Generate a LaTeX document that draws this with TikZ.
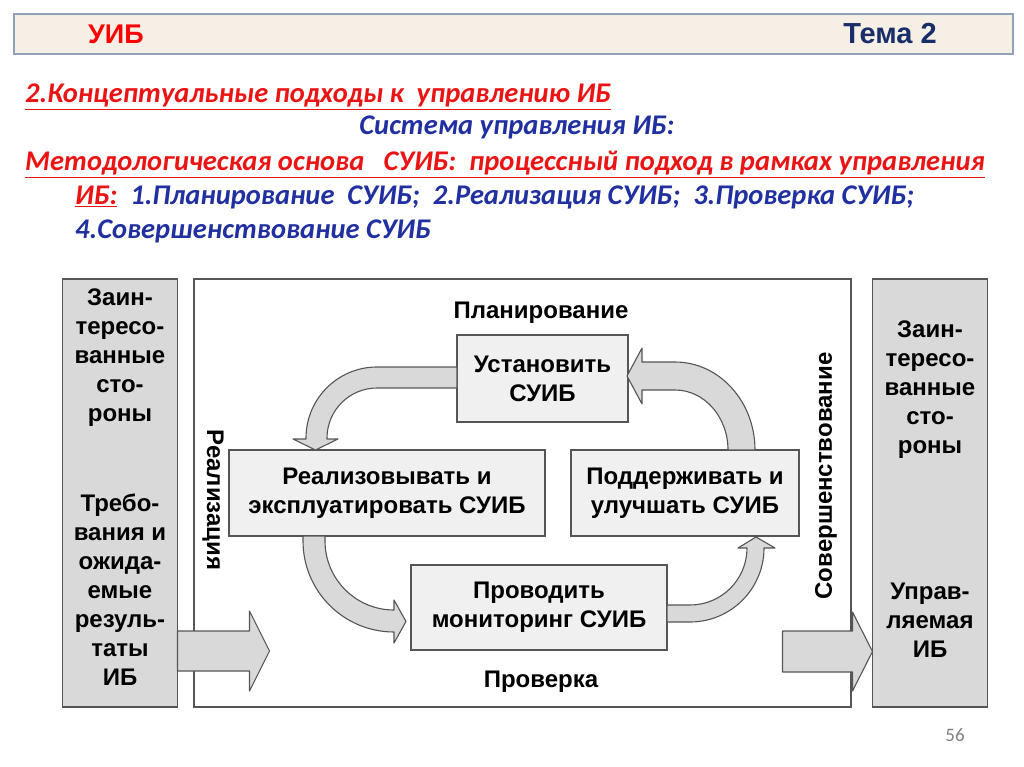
\documentclass[tikz,border=0pt]{standalone}
\usepackage{fontspec}
\setmainfont{Liberation Sans}
\newfontfamily\calib{Carlito}
\usetikzlibrary{calc}

\definecolor{redtxt}{RGB}{235,20,20}
\definecolor{bluetxt}{RGB}{32,48,160}
\definecolor{navy}{RGB}{25,45,105}
\definecolor{beige}{RGB}{246,239,229}
\definecolor{bargray}{RGB}{145,162,184}
\definecolor{linegray}{RGB}{85,85,85}
\definecolor{sidefill}{RGB}{217,217,217}
\definecolor{boxfill}{RGB}{240,240,240}

\tikzset{
	headbar/.style={draw=bargray,line width=1.5pt,fill=beige,minimum width=999,minimum height=40,inner sep=0,outer sep=0},
	headtxt/.style={font=\bfseries\fontsize{#1}{30}\selectfont},
	title/.style={font=\calib\bfseries\itshape\fontsize{28.5}{32}\selectfont,anchor=base west,inner sep=0},
	sidebox/.style={draw=linegray,line width=1.2pt,fill=sidefill,minimum width=115,minimum height=428,inner sep=0,outer sep=0},
	stepbox/.style={draw=linegray,line width=1.2pt,fill=boxfill,inner sep=0,outer sep=0,align=center,
		font=\bfseries\fontsize{24}{29}\selectfont},
	lbl/.style={font=\bfseries\fontsize{24}{29}\selectfont,align=center,inner sep=0},
	blkarrow/.style={draw=linegray,line width=1.1pt,fill=sidefill,line join=round}
}

\begin{document}
\begin{tikzpicture}[x=1pt,y=-1pt]
	\useasboundingbox (0,0) rectangle (1024,767);
	% header
	\draw (513.5,34) node [headbar] (bar) {};
	\draw (116,34) node [headtxt=27,text=red] (uib) {УИБ};
	\draw (890,34) node [headtxt=29,text=navy] (tema) {Тема 2};
	% title lines
	\draw (25,103) node [title,text=redtxt] (t1) {\underline{2.Концептуальные подходы к\ \ управлению ИБ}};
	\draw (517,135) node [title,anchor=base,text=bluetxt] (t2) {Система управления ИБ:};
	\draw (25,171) node [title,text=redtxt] (t3) {\underline{Методологическая основа\ \ \ СУИБ:\ \ процессный подход в рамках управления}};
	\draw (75,205) node [title,text=redtxt] (t4) {\underline{ИБ:}\ \ \textcolor{bluetxt}{1.Планирование\ \ СУИБ;\ \ 2.Реализация СУИБ;\ \ 3.Проверка СУИБ;}};
	\draw (75,238) node [title,text=bluetxt] (t5) {4.Совершенствование СУИБ};
	% frames
	\draw (120,493) node [sidebox] (lbox) {};
	\draw (930,493) node [sidebox] (rbox) {};
	\draw[draw=linegray,line width=1.2pt] (194,279) rectangle (851,707);
	\draw (120,358) node [lbl] (lint) {Заин-\\тересо-\\ванные\\сто-\\роны};
	\draw (120,590) node [lbl] (ltreb) {Требо-\\вания и\\ожида-\\емые\\резуль-\\таты\\ИБ};
	\draw (930,390) node [lbl] (rint) {Заин-\\тересо-\\ванные\\сто-\\роны};
	\draw (930,620) node [lbl] (rupr) {Управ-\\ляемая\\ИБ};
	% phases
	\draw (541,313) node [lbl] (plan) {Планирование};
	\draw (541,682) node [lbl] (prov) {Проверка};
	\draw (213,500) node [lbl,rotate=-90] (real) {Реализация};
	\draw (826,476) node [lbl,rotate=90] (sov) {Совершенствование};
	% steps
	\draw (542.5,378.5) node [stepbox,minimum width=171,minimum height=87] (ustan) {Установить\\СУИБ};
	\draw (387,493) node [stepbox,minimum width=316,minimum height=86] (realiz) {Реализовывать и\\эксплуатировать СУИБ};
	\draw (685,493) node [stepbox,minimum width=228,minimum height=86] (podd) {Поддерживать и\\улучшать СУИБ};
	\draw (539,607.5) node [stepbox,minimum width=256,minimum height=85] (monit) {Проводить\\мониторинг СУИБ};
	% cycle arrows
	\draw[blkarrow] ($(ustan.west)+(0,-11.5)$) -- ++(-80,0) arc[start angle=-90,end angle=-180,radius=71]
		-- ++(0,1) -- ++(-13,0) -- ++(22.5,11) -- ++(22.5,-11) -- ++(-11,0) -- ++(0,-1)
		arc[start angle=180,end angle=270,radius=50] -- ($(ustan.west)+(0,9.5)$) -- cycle;
	\draw[blkarrow] ($(realiz.south west)+(74,0)$) -- ++(0,5) arc[start angle=180,end angle=90,radius=91]
		-- ++(0,11) -- ++(12,-21.5) -- ++(-12,-21.5) -- ++(0,10)
		arc[start angle=90,end angle=180,radius=69] -- ++(0,-5) -- cycle;
	\draw[blkarrow] ($(monit.east)+(0,14.5)$) -- ++(23,0) arc[start angle=90,end angle=0,radius=74]
		-- ++(11,0) -- ++(-19,-11) -- ++(-18,11) -- ++(9,0)
		arc[start angle=0,end angle=90,radius=57] -- ($(monit.east)+(0,-2.5)$) -- cycle;
	\draw[blkarrow] ($(podd.north west)+(184,0)$) arc[start angle=0,end angle=-90,x radius=80,y radius=88]
		-- ++(-33,0) -- ++(0,-14) -- ++(-15,28) -- ++(15,28) -- ++(0,-14) -- ++(33,0)
		arc[start angle=-90,end angle=0,x radius=53,y radius=60] -- cycle;
	% in and out
	\draw[blkarrow] (lbox.east |- 0,631) -- ++(72,0) -- ++(0,-20) -- ++(20,40) -- ++(-20,40) -- ++(0,-20) -- ++(-72,0) -- cycle;
	\draw[blkarrow] (rbox.west |- 0,651.5) -- ++(-20,-39.5) -- ++(0,19) -- ++(-70,0) -- ++(0,41) -- ++(70,0) -- ++(0,19) -- cycle;
	% page number
	\draw (955,735) node [font=\calib\fontsize{19}{22}\selectfont,text=gray] (pg) {56};
\end{tikzpicture}
\end{document}
